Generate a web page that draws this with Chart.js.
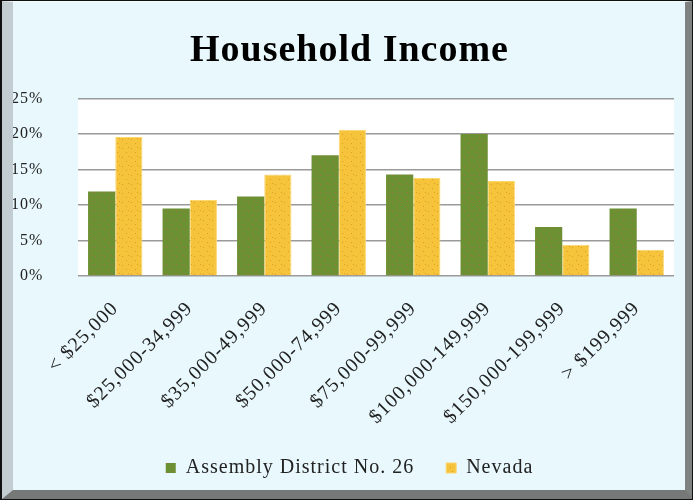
<!DOCTYPE html>
<html>
<head>
<meta charset="utf-8">
<script src="https://cdn.jsdelivr.net/npm/chart.js@4"></script>
<style>
  html, body { margin: 0; padding: 0; background: #fff; }
  #frame {
    width: 693px; height: 500px; box-sizing: border-box;
    border: 1px solid #111; border-left-width: 2px;
  }
  #bevel {
    width: 100%; height: 100%; box-sizing: border-box;
    background: #e8f8fd;
    border-left: 11px solid #c3ccd0;
    border-right: 7px solid #808282;
    border-bottom: 9px solid #767878;
    border-top: 1px solid #f4fbfd;
  }
  #chart2 { display: block; }
</style>
</head>
<body>
<div id="frame"><div id="bevel"><canvas id="chart2" width="672" height="489"></canvas></div></div>
<script>
// income brackets
const incomeLabels = ['< $25,000', '$25,000-34,999', '$35,000-49,999', '$50,000-74,999',
  '$75,000-99,999', '$100,000-149,999', '$150,000-199,999', '> $199,999'];
// share of households, percent
const districtValues = [11.9, 9.5, 11.2, 17.0, 14.3, 20.0, 6.9, 9.5];
const nevadaValues = [19.6, 10.7, 14.3, 20.6, 13.8, 13.4, 4.4, 3.7];
const yTickValues = [0, 5, 10, 15, 20, 25];

const serif = '"Liberation Serif", "Times New Roman", serif';

// dotted fill like the original
function dotPattern(base, dot) {
  const c = document.createElement('canvas');
  c.width = 9; c.height = 9;
  const g = c.getContext('2d');
  g.fillStyle = base;
  g.fillRect(0, 0, 9, 9);
  g.fillStyle = dot;
  g.fillRect(1, 2, 1, 1);
  g.fillRect(5, 6, 1, 1);
  g.fillRect(7, 1, 1, 1);
  return g.createPattern(c, 'repeat');
}

// the original text is a bit spaced out; canvas state is reset on resize so set it each time
const spacedText = {
  id: 'spacedText',
  beforeLayout(chart) { chart.ctx.letterSpacing = '1px'; },
  beforeDraw(chart) { chart.ctx.letterSpacing = '1px'; }
};

const plotBackground = {
  id: 'plotBackground',
  beforeDraw(chart) {
    const a = chart.chartArea;
    const ctx = chart.ctx;
    ctx.save();
    ctx.fillStyle = '#ffffff';
    ctx.fillRect(a.left, a.top, a.right - a.left, a.bottom - a.top);
    ctx.restore();
  }
};

const ctx = document.getElementById('chart2').getContext('2d');
const chart2 = new Chart(ctx, {
  type: 'bar',
  data: {
    labels: incomeLabels,
    datasets: [{
      label: 'Assembly District No. 26',
      data: districtValues,
      backgroundColor: dotPattern('#6c9133', '#a0704e'),
      borderColor: '#6c9133',
      borderWidth: 0,
      categoryPercentage: 0.73,
      barPercentage: 1.0
    }, {
      label: 'Nevada',
      data: nevadaValues,
      backgroundColor: dotPattern('#f6c43b', '#e29a2c'),
      borderColor: '#fbd86e',
      borderWidth: 1,
      categoryPercentage: 0.73,
      barPercentage: 1.0
    }]
  },
  options: {
    responsive: false,
    animation: false,
    layout: { padding: { left: 12, right: 11, bottom: 3 } },
    plugins: {
      title: {
        display: true,
        text: 'Household Income',
        color: '#000',
        font: { family: serif, size: 38, weight: 'bold' },
        padding: { top: 26, bottom: 25 }
      },
      legend: {
        position: 'bottom',
        labels: {
          color: '#222',
          font: { family: serif, size: 20 },
          boxWidth: 10,
          boxHeight: 10,
          padding: 32
        }
      },
      tooltip: { enabled: false }
    },
    scales: {
      x: {
        grid: { display: false, drawTicks: false },
        border: { display: false },
        ticks: {
          color: '#222',
          font: { family: serif, size: 20 },
          maxRotation: 45,
          minRotation: 45,
          padding: 21
        },
        afterFit(axis) { axis.height = 150; }
      },
      y: {
        min: 0,
        max: 25,
        afterBuildTicks(axis) { axis.ticks = yTickValues.map(v => ({ value: v })); },
        grid: { color: '#9a9a9a', lineWidth: 1.5, drawTicks: false },
        border: { display: false },
        ticks: {
          color: '#222',
          font: { family: serif, size: 16 },
          // mirrored so the labels are not clipped to the axis box; pulled back to the left edge
          mirror: true,
          crossAlign: 'far',
          padding: -67,
          callback: v => v + '%'
        },
        afterFit(axis) { axis.width = 53; }
      }
    }
  },
  plugins: [spacedText, plotBackground]
});
</script>
</body>
</html>
